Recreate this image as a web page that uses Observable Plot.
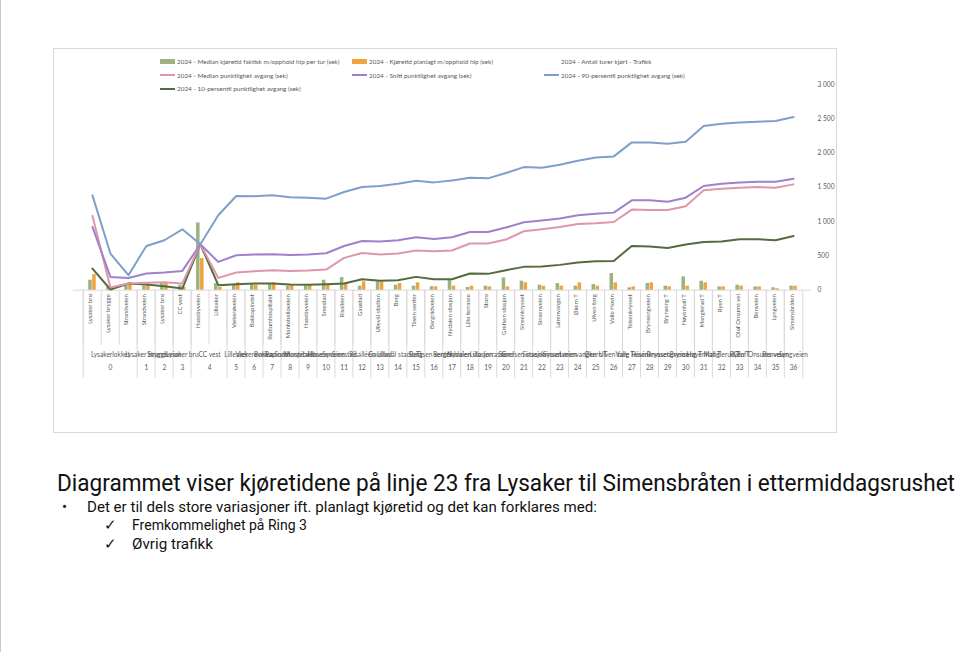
<!DOCTYPE html>
<html>
<head>
<meta charset="utf-8">
<script src="https://cdn.jsdelivr.net/npm/d3@7"></script>
<script src="https://cdn.jsdelivr.net/npm/@observablehq/plot@0.6"></script>
<style>
  html, body { margin: 0; padding: 0; background: #fff; }
  body { width: 973px; height: 652px; position: relative; overflow: hidden; font-family: Lato, Carlito, "Noto Sans", sans-serif; }
  #slideEdge { position: absolute; left: 0; top: 0; width: 1px; height: 652px; background: #c8c8c8; }
  #chartBox { position: absolute; left: 53px; top: 48px; width: 784px; height: 385px; box-sizing: border-box; border: 1px solid #d9d9d9; }
  #chart { position: absolute; left: -1px; top: -1px; }
  #legend { position: absolute; left: 106px; top: 6px; display: grid; grid-template-columns: 192px 192px 192px; grid-auto-rows: 13.5px; font-size: 6.4px; color: #595959; }
  .item { display: flex; align-items: center; white-space: nowrap; }
  .sw { display: inline-block; width: 15px; margin-right: 2px; }
  .txt { position: absolute; white-space: nowrap; color: #111; font-family: Roboto, "Liberation Sans", sans-serif; font-weight: 400; }
  #title { left: 57px; top: 471px; font-size: 24px; line-height: 24px; transform-origin: 0 50%; }
  .l1 { font-size: 15px; line-height: 16px; transform-origin: 0 50%; }
</style>
</head>
<body>
<div id="slideEdge"></div>
<div id="chartBox">
  <div id="chart"></div>
  <div id="legend"></div>
</div>
<div id="title" class="txt"></div>
<div id="bullet" class="txt l1" style="left:62px;top:499px;">•</div>
<div id="b1" class="txt l1" style="left:87px;top:499px;"></div>
<div id="c1m" class="txt l1" style="left:104px;top:517px;">✓</div>
<div id="c1" class="txt l1" style="left:132px;top:517px;"></div>
<div id="c2m" class="txt l1" style="left:104px;top:536px;">✓</div>
<div id="c2" class="txt l1" style="left:132px;top:536px;"></div>
<script>
// ---------- data ----------
const stops = ["Lysaker bru","Lysaker brygge","Strandveien","Strandveien","Lysaker bru","CC vest","Husebyveien","Lilleaker","Vækerøveien","Bokkapindet","Radiumhospitalet","Montebelloveien","Husebyveien","Smestad","Risalléen","Gaustad","Ullevål stadion","Berg","Tåsen senter","Bergrådveien","Nydalen stasjon","Lillo terrasse","Storo","Grefsen stasjon","Sinsenkrysset","Sinsenveien","Lørenvangen","Økern T","Ulven torg","Valle Hovin","Teisenkrysset","Brynsengveien","Brynseng T","Høyenhall T","Manglerud T","Ryen T","Oluf Onsums vei","Benveien","Lyngveien","Simensbråten"];
const stopGroup = [0,0,0,1,2,3,4,4,5,6,7,8,9,10,11,12,13,14,15,16,17,18,19,20,21,22,23,24,25,26,27,28,29,30,31,32,33,34,35,36];
const groupNumbers = ["0","1","2","3","4","5","6","7","8","9","10","11","12","13","14","15","16","17","18","19","20","21","22","23","24","25","26","27","28","29","30","31","32","33","34","35","36"];
const groupLabels = ["Lysakerlokket","Lysaker brygge","Strandveien","Lysaker bru","CC vest","Lilleaker","Vækerøveien","Bokkapindet","Radiumhospitalet","Montebelloveien","Husebyveien","Smestad","Risalléen","Gaustad","Ullevål stadion","Berg","Tåsen senter","Bergrådveien","Nydalen stasjon","Lillo terrasse","Storo","Grefsen stasjon","Sinsenkrysset","Sinsenveien","Lørenvangen","Økern T","Ulven torg","Valle Hovin","Teisenkrysset","Brynsengveien","Brynseng T","Høyenhall T","Manglerud T","Ryen T","Oluf Onsums vei","Benveien","Lyngveien"];

const medianFaktisk = [146,40,90,60,100,68,980,97,80,90,90,60,60,146,184,58,121,73,58,50,146,39,58,179,131,73,97,58,83,243,34,97,58,194,131,48,73,48,34,58];
const planlagt      = [228,30,107,87,107,40,461,40,107,73,107,73,73,83,97,121,121,97,107,48,58,58,48,48,107,58,58,107,58,107,48,107,48,58,107,48,58,48,20,58];
const medianPunkt   = [1082,39,97,107,116,97,670,179,257,276,291,281,286,301,471,543,519,534,578,568,578,680,680,738,859,888,922,966,976,995,1175,1170,1170,1223,1456,1480,1495,1504,1495,1543];
const snittPunkt    = [922,194,179,243,257,281,670,412,510,519,524,514,522,539,645,718,709,728,772,747,772,849,849,913,990,1015,1044,1092,1116,1131,1310,1310,1291,1349,1519,1553,1572,1582,1582,1626];
const p90Punkt      = [1383,534,218,645,728,888,670,1092,1373,1369,1383,1354,1349,1335,1432,1504,1519,1553,1597,1572,1601,1640,1631,1708,1795,1786,1830,1888,1936,1951,2155,2155,2136,2165,2393,2427,2446,2456,2466,2524];
const p10Punkt      = [315,10,97,83,58,24,670,73,87,97,97,83,78,87,97,160,136,146,194,160,160,243,238,291,340,345,369,403,422,427,645,636,616,665,704,709,743,743,728,791];

const yTicks = [0,500,1000,1500,2000,2500,3000];

const series = [
  {key: "faktisk",  label: "2024 - Median kjøretid faktisk m/opphold hlp per tur (sek)", color: "#9db27f", kind: "bar"},
  {key: "planlagt", label: "2024 - Kjøretid planlagt m/opphold hlp (sek)", color: "#f0a33e", kind: "bar"},
  {key: "turer",    label: "2024 - Antall turer kjørt - Trafikk", color: "transparent", kind: "none"},
  {key: "median",   label: "2024 - Median punktlighet avgang (sek)", color: "#e096aa", kind: "line"},
  {key: "snitt",    label: "2024 - Snitt punktlighet avgang (sek)", color: "#9f80cc", kind: "line"},
  {key: "p90",      label: "2024 - 90-persentil punktlighet avgang (sek)", color: "#7f9fca", kind: "line"},
  {key: "p10",      label: "2024 - 10-persentil punktlighet avgang (sek)", color: "#546b3d", kind: "line"}
];
const colorOf = Object.fromEntries(series.map(s => [s.key, s.color]));

const titleText = "Diagrammet viser kjøretidene på linje 23 fra Lysaker til Simensbråten i ettermiddagsrushet";
const bulletText = "Det er til dels store variasjoner ift. planlagt kjøretid og det kan forklares med:";
const checkTexts = ["Fremkommelighet på Ring 3", "Øvrig trafikk"];

// ---------- build ----------
const n = stops.length;
const W = 784, H = 385;
const mL = 20, mR = 25, mT = 36, mB = 143;
const plotH = H - mT - mB;
const step = (W - mL - mR) / n;
const idx = d3.range(n);
const rows = idx.map(i => ({
  i, stop: stops[i],
  faktisk: medianFaktisk[i], planlagt: planlagt[i],
  median: medianPunkt[i], snitt: snittPunkt[i], p90: p90Punkt[i], p10: p10Punkt[i]
}));
const groups = groupNumbers.map((num, k) => {
  const members = idx.filter(i => stopGroup[i] === k);
  return {k, num, label: groupLabels[k], first: members[0], last: members[members.length - 1]};
});
const groupsOdd = groups.filter(g => (g.last - g.first) % 2 === 0);
const groupsEven = groups.filter(g => (g.last - g.first) % 2 === 1);
const groupStarts = groups.map(g => g.first);
const fmt = d => d3.format(",")(d).replace(/,/g, " ");
const textColor = "#595959";
const lineColor = "#d9d9d9";
const barW = 4;

const groupTextMarks = (dy, field, fs) => [
  Plot.text(groupsOdd, {x: g => (g.first + g.last) / 2, text: field, frameAnchor: "bottom", dy, fontSize: fs, fill: textColor}),
  Plot.text(groupsEven, {x: g => g.first + (g.last - g.first - 1) / 2, text: field, frameAnchor: "bottom", dx: step / 2, dy, fontSize: fs, fill: textColor})
];

const chart = Plot.plot({
  width: W, height: H,
  marginLeft: mL, marginRight: mR, marginTop: mT, marginBottom: mB,
  style: {fontFamily: "Lato, Carlito, sans-serif", color: textColor, background: "transparent", overflow: "visible"},
  x: {type: "band", domain: idx, padding: 0, axis: null},
  y: {domain: [0, 3000], axis: null},
  marks: [
    Plot.ruleY([0], {stroke: lineColor}),
    Plot.barY(rows, {x: "i", y: "faktisk", fill: colorOf.faktisk, insetLeft: step / 2 - barW, insetRight: step / 2}),
    Plot.barY(rows, {x: "i", y: "planlagt", fill: colorOf.planlagt, insetLeft: step / 2, insetRight: step / 2 - barW}),
    Plot.lineY(rows, {x: "i", y: "p10", stroke: colorOf.p10, strokeWidth: 2}),
    Plot.lineY(rows, {x: "i", y: "median", stroke: colorOf.median, strokeWidth: 2}),
    Plot.lineY(rows, {x: "i", y: "snitt", stroke: colorOf.snitt, strokeWidth: 2}),
    Plot.lineY(rows, {x: "i", y: "p90", stroke: colorOf.p90, strokeWidth: 2}),
    Plot.axisY({anchor: "right", ticks: yTicks, tickSize: 0, tickPadding: 6, tickFormat: fmt, fontSize: 6.6, color: textColor}),
    Plot.text(rows, {x: "i", text: "stop", frameAnchor: "bottom", rotate: -90, textAnchor: "end", dy: 4, fontSize: 6, fill: textColor}),
    Plot.ruleX(idx, {x: d => d, dx: -step / 2, insetTop: plotH, insetBottom: -55, stroke: lineColor}),
    Plot.ruleX(groupStarts, {x: d => d, dx: -step / 2, insetTop: plotH, insetBottom: -88, stroke: lineColor}),
    Plot.ruleX([n - 1], {x: d => d, dx: step / 2, insetTop: plotH, insetBottom: -88, stroke: lineColor}),
    ...groupTextMarks(67, "label", 6.6),
    ...groupTextMarks(80, "num", 6.6)
  ]
});
document.getElementById("chart").appendChild(chart);

// legend
const legend = document.getElementById("legend");
const order = ["faktisk", "planlagt", "turer", "median", "snitt", "p90", "p10"];
for (const key of order) {
  const s = series.find(d => d.key === key);
  const it = document.createElement("div");
  it.className = "item";
  const sw = document.createElement("span");
  sw.className = "sw";
  sw.style.height = s.kind === "bar" ? "5px" : "2px";
  sw.style.background = s.color;
  it.appendChild(sw);
  const t = document.createElement("span");
  t.textContent = s.label;
  it.appendChild(t);
  legend.appendChild(it);
}

// texts
function fit(el, text, target) {
  el.textContent = text;
  if (target) {
    const w = el.getBoundingClientRect().width;
    if (w > 0) el.style.transform = `scaleX(${target / w})`;
  }
}
fit(document.getElementById("title"), titleText, 898);
fit(document.getElementById("b1"), bulletText, 510);
fit(document.getElementById("c1"), checkTexts[0], 175);
fit(document.getElementById("c2"), checkTexts[1], 81);
</script>
</body>
</html>
